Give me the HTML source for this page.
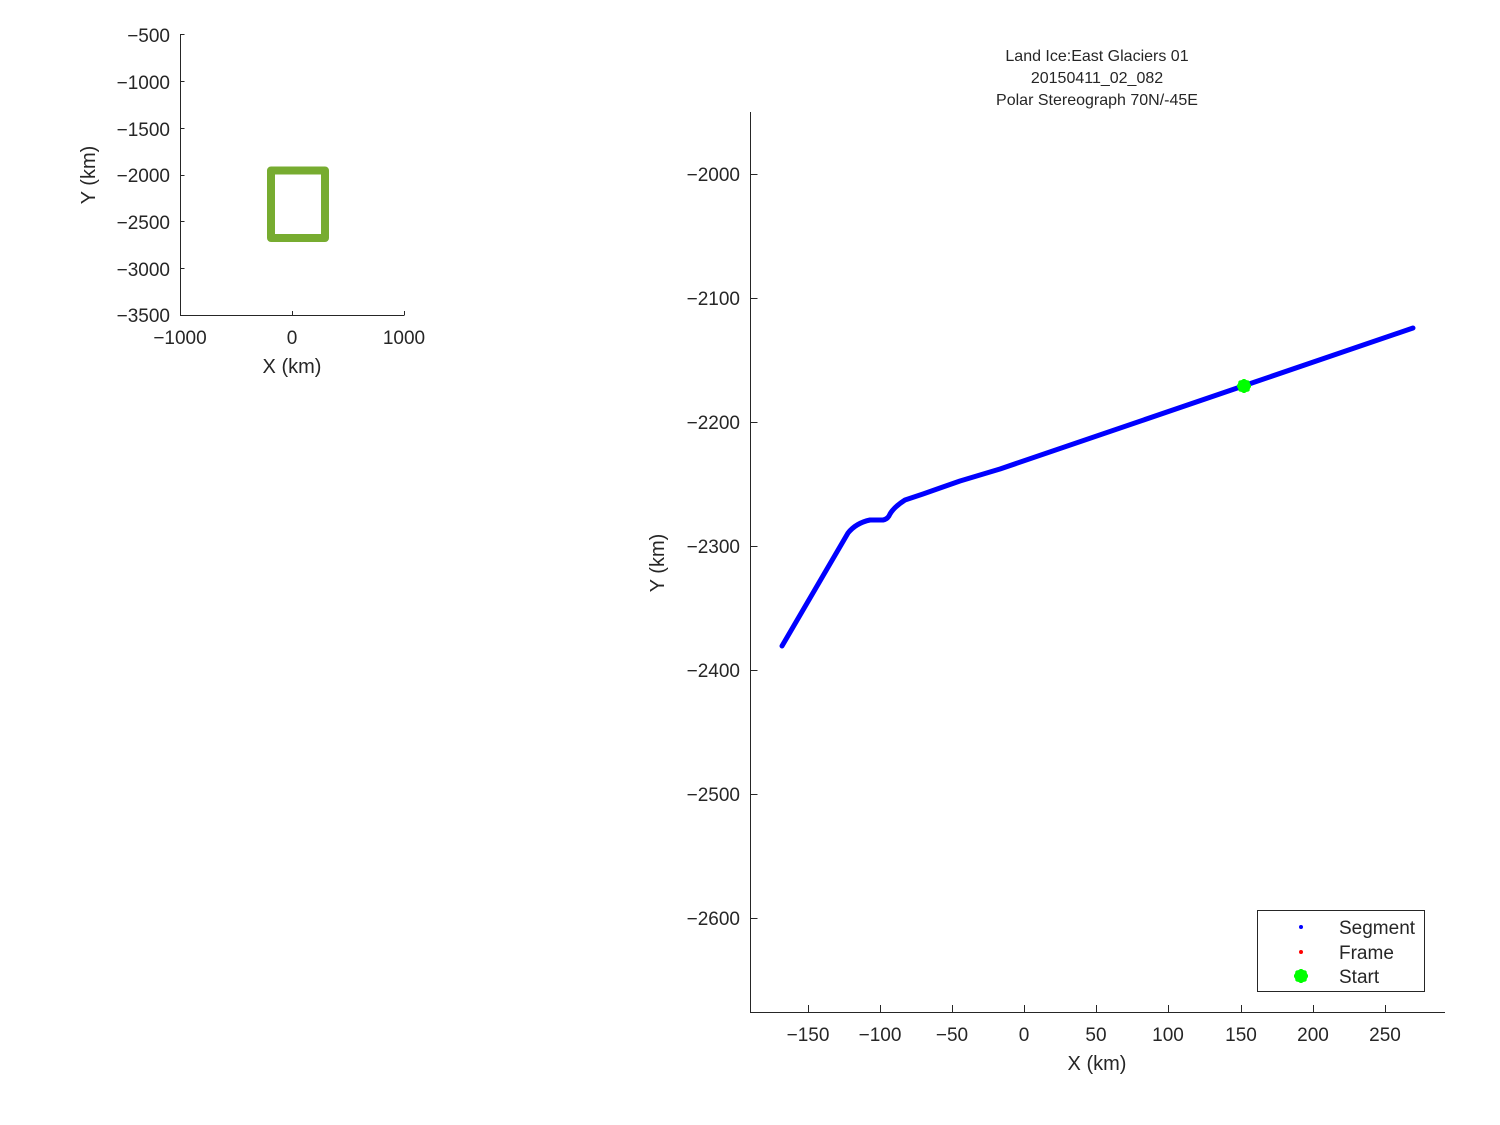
<!DOCTYPE html>
<html><head><meta charset="utf-8"><style>body{margin:0;background:#fff}svg{display:block}</style></head><body>
<svg width="1500" height="1125" xmlns="http://www.w3.org/2000/svg" font-family="Liberation Sans, DejaVu Sans, sans-serif" fill="#262626">
<!-- inset -->
<rect x="271" y="170.5" width="54" height="67.5" fill="none" stroke="#77ac30" stroke-width="8" stroke-linejoin="round"/>
<g stroke="#262626" stroke-width="1" fill="none">
<path d="M180.5 34V315.5H404.5"/>
<path d="M180.5 34.5h4M180.5 81.5h4M180.5 128.5h4M180.5 175.5h4M180.5 221.5h4M180.5 268.5h4M292.5 315v-4M404.5 315v-4"/>
</g>
<g font-size="19" text-anchor="end">
<text x="170" y="42">−500</text><text x="170" y="89">−1000</text><text x="170" y="136">−1500</text><text x="170" y="182">−2000</text><text x="170" y="229">−2500</text><text x="170" y="276">−3000</text><text x="170" y="322">−3500</text>
</g>
<g font-size="19" text-anchor="middle">
<text x="180" y="344">−1000</text><text x="292" y="344">0</text><text x="404" y="344">1000</text>
<text x="292" y="373" font-size="20">X (km)</text>
<text transform="translate(95,175) rotate(-90)" font-size="20">Y (km)</text>
</g>
<!-- main -->
<g stroke="#262626" stroke-width="1" fill="none">
<path d="M750.5 112V1012.5H1445"/>
<path d="M750.5 174.5h7M750.5 298.5h7M750.5 422.5h7M750.5 546.5h7M750.5 670.5h7M750.5 794.5h7M750.5 918.5h7"/>
<path d="M808.5 1012v-7M880.5 1012v-7M952.5 1012v-7M1024.5 1012v-7M1096.5 1012v-7M1168.5 1012v-7M1241.5 1012v-7M1313.5 1012v-7M1385.5 1012v-7"/>
</g>
<g font-size="19" text-anchor="end">
<text x="740" y="181">−2000</text><text x="740" y="305">−2100</text><text x="740" y="429">−2200</text><text x="740" y="553">−2300</text><text x="740" y="677">−2400</text><text x="740" y="801">−2500</text><text x="740" y="925">−2600</text>
</g>
<g font-size="19" text-anchor="middle">
<text x="808" y="1041">−150</text><text x="880" y="1041">−100</text><text x="952" y="1041">−50</text><text x="1024" y="1041">0</text><text x="1096" y="1041">50</text><text x="1168" y="1041">100</text><text x="1241" y="1041">150</text><text x="1313" y="1041">200</text><text x="1385" y="1041">250</text>
<text x="1097" y="1070" font-size="20">X (km)</text>
<text transform="translate(664,563) rotate(-90)" font-size="20">Y (km)</text>
<text x="1097" y="61" font-size="16">Land Ice:East Glaciers 01</text>
<text x="1097" y="83" font-size="16">20150411_02_082</text>
<text x="1097" y="105" font-size="16">Polar Stereograph 70N/-45E</text>
</g>
<path d="M782 646L848 533Q856 523 870 520L883 520Q888 519 890 514Q894 507 905 500L923 494L940 488L960 481L1000 469L1413 328" fill="none" stroke="#0000ff" stroke-width="5" stroke-linecap="round" stroke-linejoin="round"/>
<g fill="#00ff00" stroke="#00ff00" stroke-width="3"><circle cx="1244" cy="386" r="5"/><path d="M1237 386h14M1244 379v14M1239 381l10 10M1249 381l-10 10"/></g>
<!-- legend -->
<rect x="1257.5" y="910.5" width="167" height="81" fill="#fff" stroke="#262626"/>
<circle cx="1301" cy="927" r="2" fill="#0000ff"/>
<circle cx="1301" cy="952" r="2" fill="#ff0000"/>
<g fill="#00ff00" stroke="#00ff00" stroke-width="3"><circle cx="1301" cy="976" r="5"/><path d="M1294 976h14M1301 969v14M1296 971l10 10M1306 971l-10 10"/></g>
<g font-size="19"><text x="1339" y="934">Segment</text><text x="1339" y="959">Frame</text><text x="1339" y="983">Start</text></g>
</svg>
</body></html>
